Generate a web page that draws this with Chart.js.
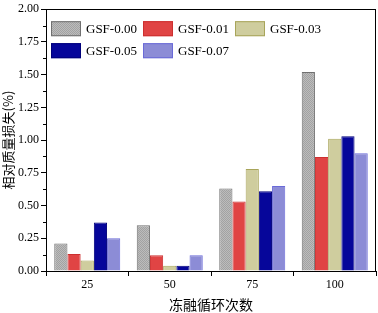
<!DOCTYPE html>
<html><head><meta charset="utf-8">
<script src="https://cdn.jsdelivr.net/npm/chart.js@4"></script>
<style>html,body{margin:0;padding:0;background:#fff}#wrap{width:378px;height:313px;position:relative}</style>
</head><body><div id="wrap"><canvas id="c" width="378" height="313"></canvas></div>
<script>
const categories = ['25', '50', '75', '100'];
const seriesNames = ['GSF-0.00', 'GSF-0.01', 'GSF-0.03', 'GSF-0.05', 'GSF-0.07'];
const gsf000 = [0.21, 0.35, 0.63, 1.52];
const gsf001 = [0.13, 0.12, 0.53, 0.87];
const gsf003 = [0.08, 0.04, 0.78, 1.01];
const gsf005 = [0.37, 0.04, 0.61, 1.03];
const gsf007 = [0.25, 0.12, 0.65, 0.90];
const yTicks = [0, 0.25, 0.5, 0.75, 1, 1.25, 1.5, 1.75, 2];

function stipple(){
  const p = document.createElement('canvas'); p.width = 2; p.height = 2;
  const g = p.getContext('2d');
  g.fillStyle = '#bcbcbc'; g.fillRect(0,0,2,2);
  g.fillStyle = '#a2a2a2'; g.fillRect(0,0,1,1); g.fillRect(1,1,1,1);
  return g.createPattern(p, 'repeat');
}
const fills = [stipple(), '#e04444', '#cfcd9e', '#06069a', '#8c8cd6'];
const borders = ['#707070', '#cc3030', '#a8a55a', '#00007a', '#6a6ad8'];
const values = [gsf000, gsf001, gsf003, gsf005, gsf007];

const serif = "'Liberation Serif','Times New Roman',serif";
const cjk = "'Noto Sans CJK SC','Noto Sans CJK JP',sans-serif";

const framePlugin = {
  id: 'frame',
  afterDraw(chart){
    const {ctx, chartArea: a, scales} = chart;
    ctx.save();
    ctx.strokeStyle = '#000'; ctx.lineWidth = 1;
    ctx.strokeRect(Math.round(a.left)+0.5, Math.round(a.top)+0.5, Math.round(a.right-a.left)-1, Math.round(a.bottom-a.top));
    const y = scales.y;
    for (let i = 0; i < yTicks.length-1; i++){
      const v = (yTicks[i]+yTicks[i+1])/2;
      const py = Math.round(y.getPixelForValue(v))+0.5;
      ctx.beginPath(); ctx.moveTo(a.left-3, py); ctx.lineTo(a.left, py); ctx.stroke();
    }
    const cols = [a.left+5, a.left+97, a.left+189];
    const rows = [a.top+12, a.top+34];
    ctx.font = '13px ' + serif;
    ctx.textBaseline = 'middle'; ctx.textAlign = 'left';
    chart.data.datasets.forEach((ds, i) => {
      const cx = cols[i % 3], cy = rows[Math.floor(i/3)];
      ctx.fillStyle = ds.backgroundColor; ctx.fillRect(cx, cy, 30, 15);
      ctx.strokeStyle = ds.borderColor; ctx.strokeRect(cx+0.5, cy+0.5, 29, 14);
      ctx.fillStyle = '#000'; ctx.fillText(ds.label, cx+35, cy+8);
    });
    ctx.restore();
  }
};

new Chart(document.getElementById('c'), {
  type: 'bar',
  data: {
    labels: categories,
    datasets: seriesNames.map((n, i) => ({
      label: n, data: values[i], backgroundColor: fills[i], borderColor: borders[i],
      borderWidth: 1, categoryPercentage: 0.8, barPercentage: 1
    }))
  },
  options: {
    responsive: false, animation: false,
    layout: {padding: {top: 5, right: 2, left: 0, bottom: 0}},
    plugins: {legend: {display: false}, tooltip: {enabled: false}},
    scales: {
      x: {
        grid: {display: true, drawOnChartArea: false, offset: true, tickLength: 5, color: '#000'},
        border: {color: '#000'},
        ticks: {color: '#000', font: {family: serif, size: 12}, padding: 2},
        title: {display: true, text: '冻融循环次数', color: '#000', font: {family: cjk, size: 14}, padding: {top: 0, bottom: 0}},
        afterFit(s){ s.height = 42; }
      },
      y: {
        min: 0, max: 2,
        afterBuildTicks(s){ s.ticks = yTicks.map(v => ({value: v})); },
        grid: {display: true, drawOnChartArea: false, tickLength: 5, color: '#000'},
        border: {color: '#000'},
        ticks: {color: '#000', font: {family: serif, size: 12}, padding: 2, callback: v => v.toFixed(2)},
        title: {display: true, text: '相对质量损失(%)', color: '#000', font: {family: cjk, size: 13}, padding: {top: 0, bottom: 0}},
        afterFit(s){ s.width = 46; }
      }
    }
  },
  plugins: [framePlugin]
});
</script></body></html>
